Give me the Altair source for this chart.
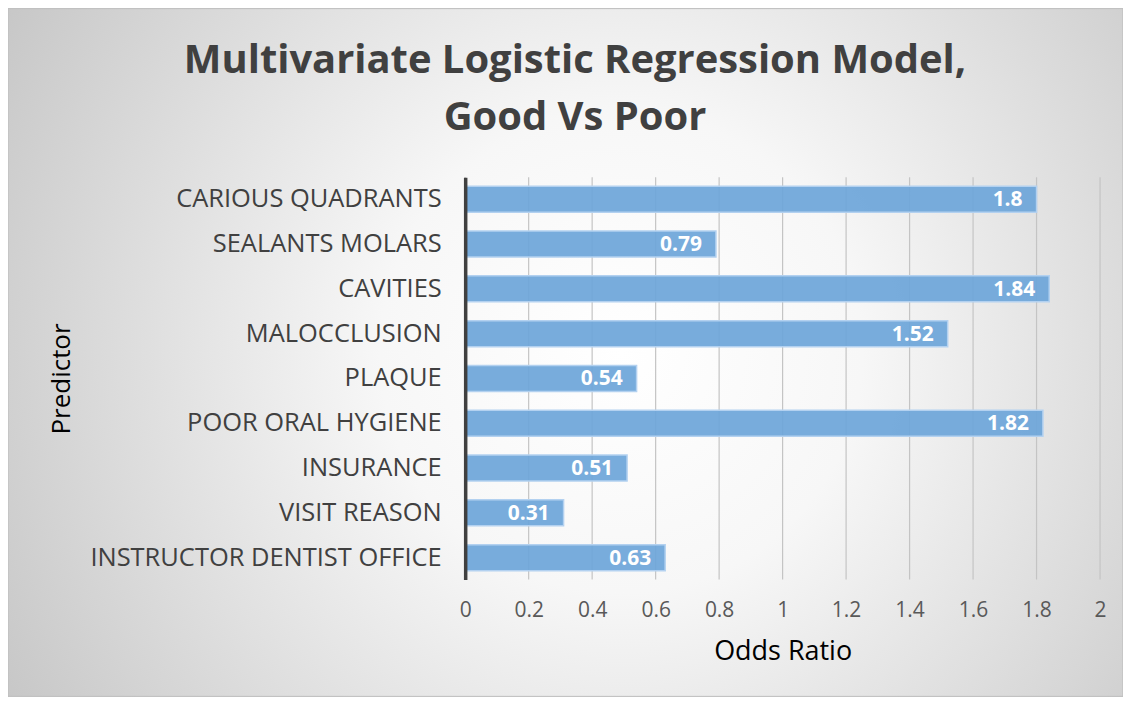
import altair as alt
import pandas as pd

predictors = ["CARIOUS QUADRANTS", "SEALANTS MOLARS", "CAVITIES", "MALOCCLUSION",
              "PLAQUE", "POOR ORAL HYGIENE", "INSURANCE", "VISIT REASON",
              "INSTRUCTOR DENTIST OFFICE"]
odds = [1.8, 0.79, 1.84, 1.52, 0.54, 1.82, 0.51, 0.31, 0.63]
ticks = [0, 0.2, 0.4, 0.6, 0.8, 1.0, 1.2, 1.4, 1.6, 1.8, 2.0]
title_lines = ["Multivariate Logistic Regression Model,", "Good Vs Poor"]

df = pd.DataFrame({"predictor": predictors, "odds": odds,
                   "label": [f"{v:g}" for v in odds]})
grid_df = pd.DataFrame({"t": ticks})
bg_df = pd.DataFrame({"a": [0]})

W, H = 636, 403
PL, PT, PR, PB = 458, 169, 23, 117
FONT = "Open Sans"

xscale = alt.Scale(domain=[0, 2], nice=False, zero=True)
yscale = alt.Scale(domain=predictors, paddingInner=0.42, paddingOuter=0.2)

bg = alt.Chart(bg_df).mark_rect(
    fill=alt.RadialGradient(
        gradient="radial", x1=0.55, y1=0.5, x2=0.55, y2=0.5, r1=0, r2=0.72,
        stops=[alt.GradientStop(offset=0, color="#ffffff"),
               alt.GradientStop(offset=0.3, color="#f7f7f7"),
               alt.GradientStop(offset=1, color="#bdbdbd")]),
    stroke="#bcbcbc", strokeWidth=1,
).encode(x=alt.value(-PL), x2=alt.value(W + PR), y=alt.value(-PT), y2=alt.value(H + PB))


def title_line(i, ypix):
    return alt.Chart(pd.DataFrame({"line": [title_lines[i]]})).mark_text(
        font=FONT, fontSize=40, fontWeight="bold", color="#404040",
        align="center", baseline="middle",
    ).encode(text="line:N", x=alt.value(576 - 466), y=alt.value(ypix - 177))


grid = alt.Chart(grid_df).mark_rule(color="#c4c4c4", strokeWidth=1.2).encode(
    x=alt.X("t:Q", scale=xscale),
    y=alt.value(0), y2=alt.value(H),
)

bars = alt.Chart(df).mark_bar(
    fill="#6ea6d9", fillOpacity=0.93, stroke="#b3d1f0", strokeWidth=1.5,
).encode(
    x=alt.X("odds:Q", scale=xscale,
            axis=alt.Axis(values=ticks, grid=False, domain=False, ticks=False,
                          format="~g",
                          labelFont=FONT, labelFontSize=21, labelColor="#595959",
                          labelPadding=20, title="Odds Ratio", titleFont=FONT,
                          titleFontSize=27, titleFontWeight="normal",
                          titleColor="#000000", titlePadding=18, zindex=1,
                          labelFlush=False)),
    y=alt.Y("predictor:N", sort=predictors, scale=yscale,
            axis=alt.Axis(domain=True, domainColor="#404040", domainWidth=3.5,
                          ticks=False, labelFont=FONT, labelFontSize=25.5,
                          labelColor="#404040", labelPadding=24, labelLimit=600,
                          title="Predictor", titleFont=FONT, titleFontSize=26,
                          titleFontWeight="normal", titleColor="#000000",
                          titleX=62 - 466, titleY=H / 2, titleAngle=270,
                          titleAlign="center", titleBaseline="middle", zindex=1)),
)

labels = alt.Chart(df).mark_text(
    align="right", baseline="middle", dx=-14, dy=1, color="white",
    fontWeight="bold", fontSize=21, font=FONT,
).encode(
    x=alt.X("odds:Q", scale=xscale),
    y=alt.Y("predictor:N", sort=predictors, scale=yscale),
    text="label:N",
)

chart = alt.layer(bg, title_line(0, 60), title_line(1, 118), grid, bars, labels).properties(
    width=W, height=H,
    autosize=alt.AutoSizeParams(type="none"),
    padding={"left": PL, "top": PT, "right": PR, "bottom": PB},
).configure_view(stroke=None)

chart.save("out.html", embed_options={"renderer": "svg", "actions": False})
